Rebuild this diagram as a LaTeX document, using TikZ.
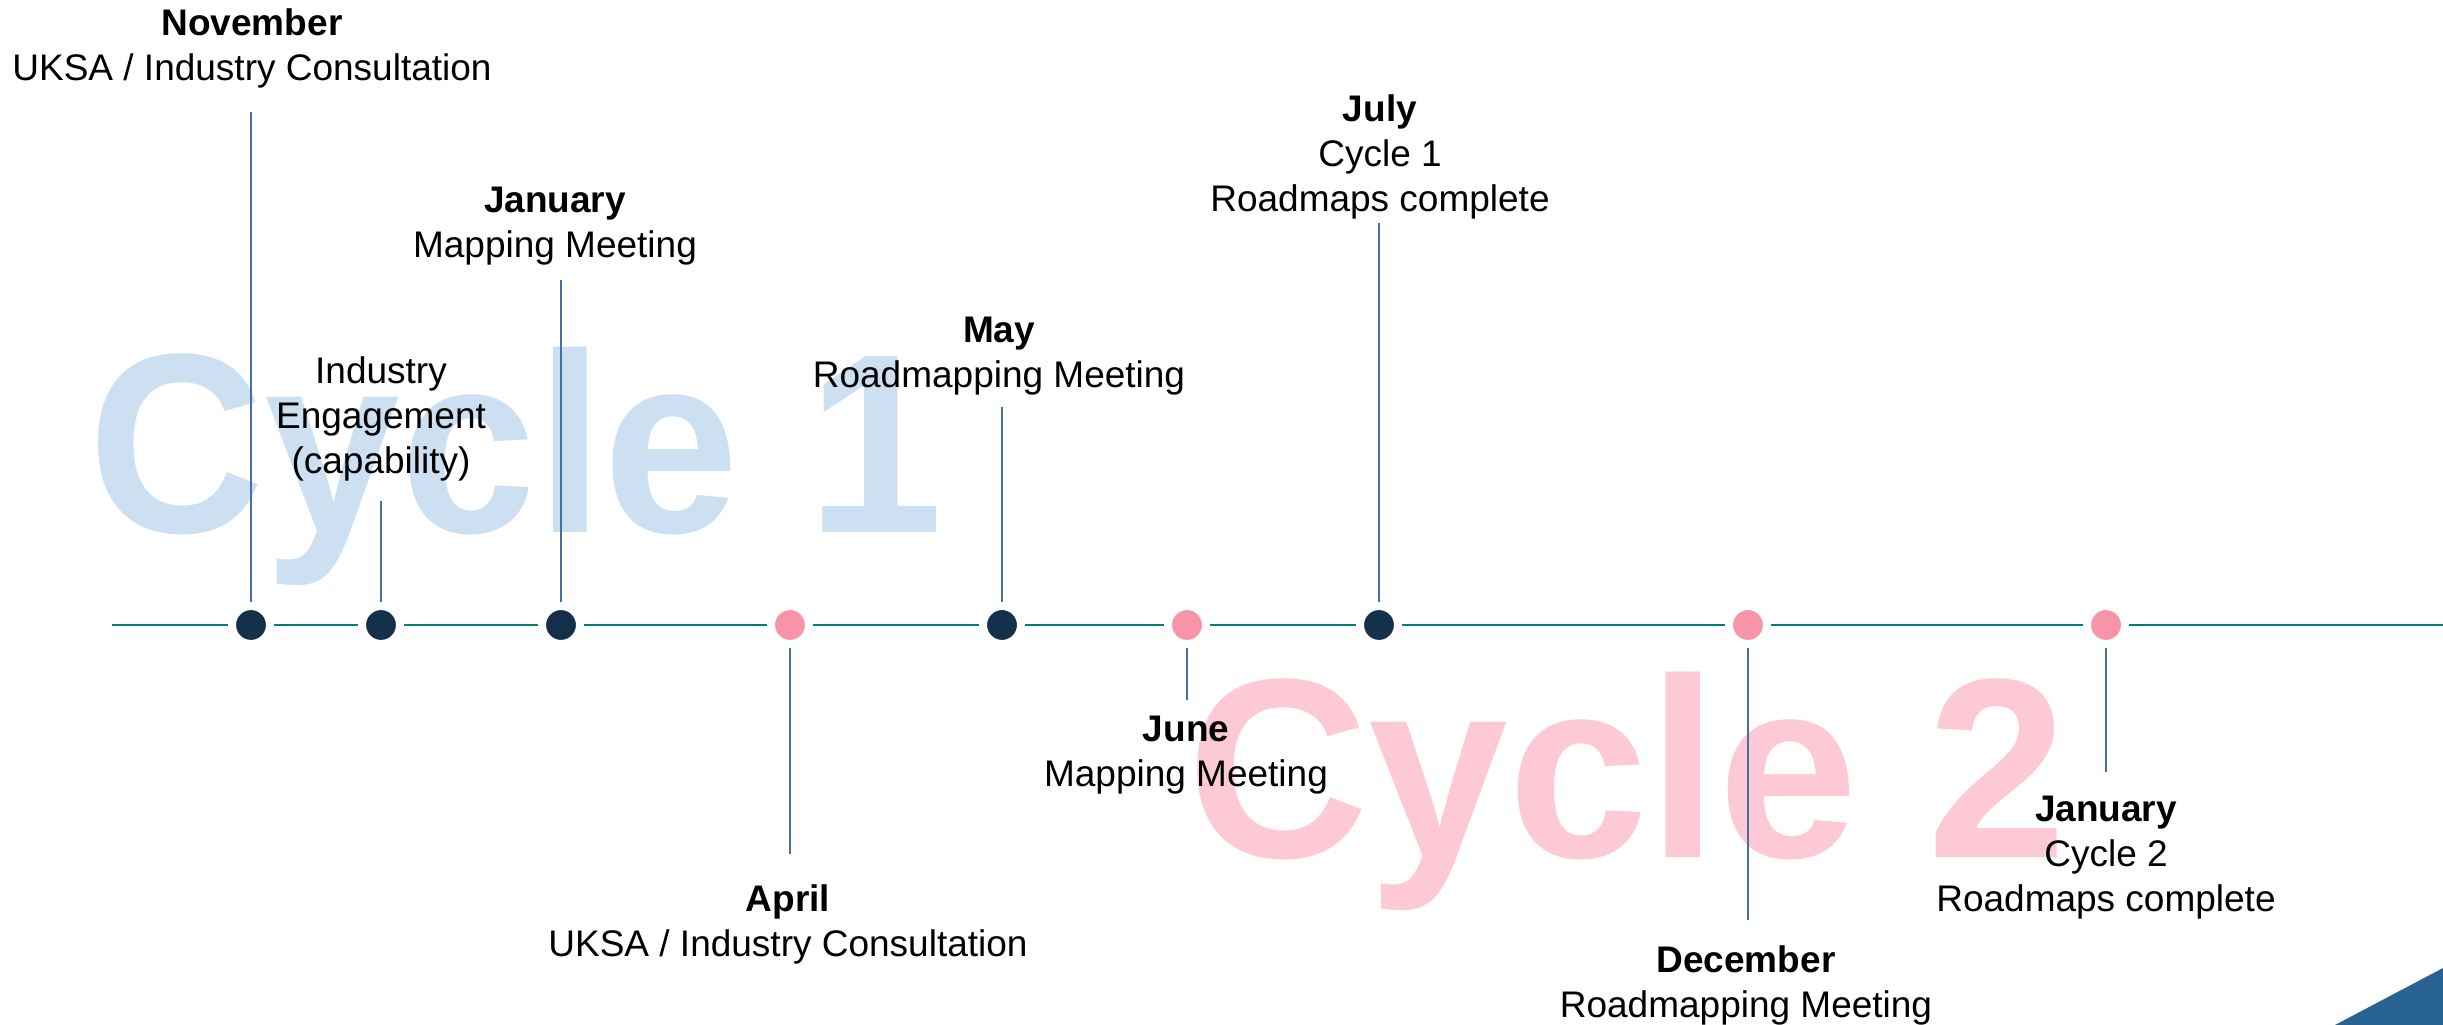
\documentclass[tikz,border=0pt]{standalone}
\usepackage{fontspec}
\setmainfont{Liberation Sans}
\definecolor{navy}{RGB}{20,48,74}
\definecolor{rose}{RGB}{248,148,168}
\definecolor{lineteal}{RGB}{0,128,122}
\definecolor{stemblue}{RGB}{70,112,160}
\definecolor{wmblue}{RGB}{204,224,242}
\definecolor{wmpink}{RGB}{252,201,212}
\definecolor{cornerblue}{RGB}{40,98,146}
\begin{document}
\begin{tikzpicture}[x=0.3pt,y=-0.3pt,
  lbl/.style={align=center, inner sep=0pt, anchor=north,
    font=\fontsize{11.1}{13.5}\selectfont},
  wm/.style={inner sep=0pt, anchor=base west,
    font=\fontsize{76.8}{80}\selectfont\bfseries},
  dotbase/.style={circle, inner sep=0pt, minimum size=11.4pt,
    draw=white, line width=2.4pt},
  darkdot/.style={dotbase, fill=navy},
  pinkdot/.style={dotbase, fill=rose},
  stem/.style={draw=stemblue, line width=0.5pt},
  timeline/.style={draw=lineteal, line width=0.85pt}]

\useasboundingbox (0,0) rectangle (2443,1025);

% large background captions
\node[wm, text=wmblue] (wm1) at (88,533) {\scalebox{0.953}[1]{Cycle 1}};
\node[wm, text=wmpink] (wm2) at (1187,858) {\scalebox{0.981}[1]{Cycle 2}};

% corner accent
\fill[cornerblue] (2335,1025) -- (2443,968) -- (2443,1025) -- cycle;

% main axis
\coordinate (ax0) at (112,625);
\coordinate (ax1) at (2443,625);
\draw[timeline] (ax0) -- (ax1);

% milestones
\node[darkdot] (d1) at (251,625) {};
\node[darkdot] (d2) at (381,625) {};
\node[darkdot] (d3) at (561,625) {};
\node[pinkdot] (d4) at (790,625) {};
\node[darkdot] (d5) at (1002,625) {};
\node[pinkdot] (d6) at (1187,625) {};
\node[darkdot] (d7) at (1379,625) {};
\node[pinkdot] (d8) at (1748,625) {};
\node[pinkdot] (d9) at (2106,625) {};

% stem ends
\coordinate (c1) at (251,112);
\coordinate (c2) at (381,501);
\coordinate (c3) at (561,280);
\coordinate (c4) at (790,854);
\coordinate (c5) at (1002,407);
\coordinate (c6) at (1187,700);
\coordinate (c7) at (1379,223);
\coordinate (c8) at (1748,920);
\coordinate (c9) at (2106,772);

\foreach \i in {1,...,9} {\draw[stem] (c\i) -- (d\i);}

% labels
\node[lbl] (l1) at (252,8) {\textbf{November}\\UKSA / Industry Consultation};
\node[lbl] (l2) at (381,356) {Industry\\Engagement\\(capability)};
\node[lbl] (l3) at (555,186) {\textbf{January}\\Mapping Meeting};
\node[lbl] (l4) at (788,884) {\textbf{April}\\UKSA / Industry Consultation};
\node[lbl] (l5) at (999,316) {\textbf{May}\\Roadmapping Meeting};
\node[lbl] (l6) at (1186,715) {\textbf{June}\\Mapping Meeting};
\node[lbl] (l7) at (1380,94) {\textbf{July}\\Cycle 1\\Roadmaps complete};
\node[lbl] (l8) at (1746,945) {\textbf{December}\\Roadmapping Meeting};
\node[lbl] (l9) at (2106,795) {\textbf{January}\\Cycle 2\\Roadmaps complete};

\end{tikzpicture}
\end{document}
